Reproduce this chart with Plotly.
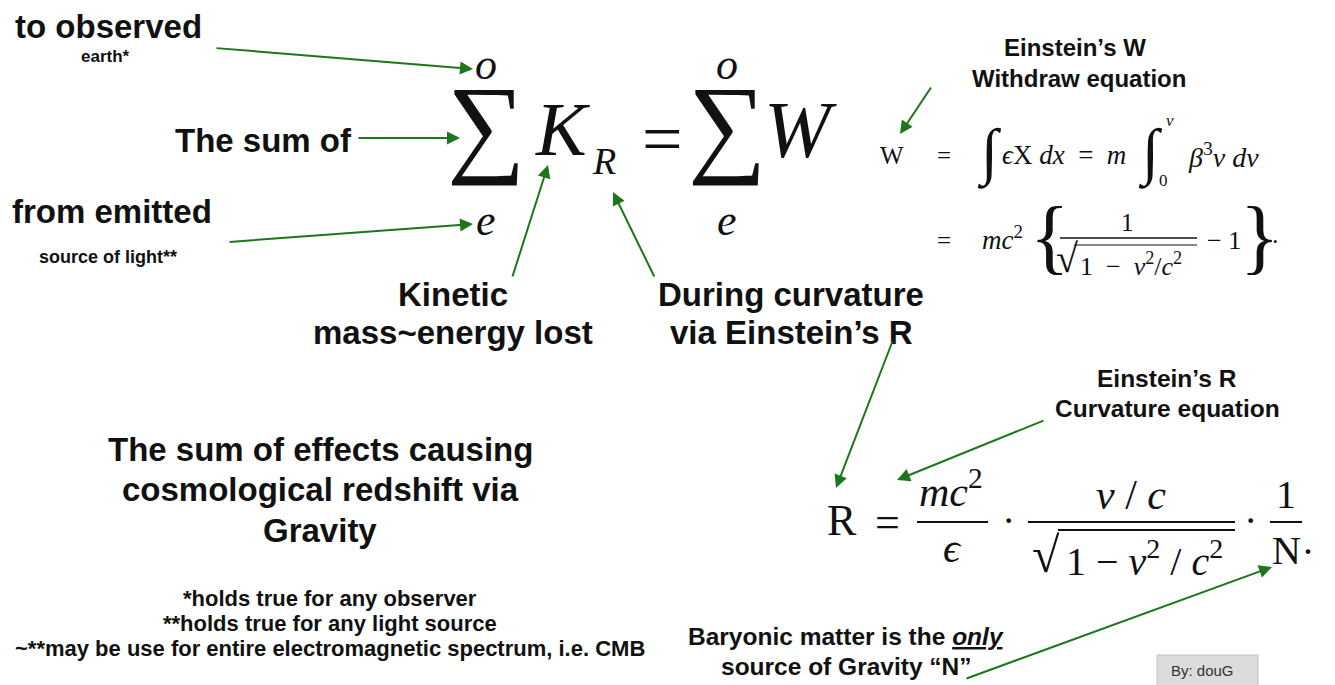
import plotly.graph_objects as go

# ---- text content of the diagram ----
left_labels = ["to observed", "The sum of", "from emitted"]
left_small = ["earth*", "source of light**"]
k_label = ["Kinetic", "mass~energy lost"]
r_label = ["During curvature", "via Einstein’s R"]
w_title = ["Einstein’s W", "Withdraw equation"]
r_title = ["Einstein’s R", "Curvature equation"]
summary = ["The sum of effects causing", "cosmological redshift via", "Gravity"]
footnotes = ["*holds true for any observer",
             "**holds true for any light source",
             "~**may be use for entire electromagnetic spectrum, i.e. CMB"]
baryon = ["Baryonic matter is the <i><u>only</u></i>", "source of Gravity “N”"]
credit = "By: douG"

SANS = "Liberation Sans, Arial, sans-serif"
SERIF = "Liberation Serif, Times New Roman, serif"
INK = "#111111"
GREEN = "#1c771c"
SP = "\u00a0"

fig = go.Figure()
ann = []
shapes = []


def txt(x, y, s, size, family=SANS, bold=False, italic=False, color=INK, xanchor="center"):
    if bold:
        s = "<b>" + s + "</b>"
    if italic:
        s = "<i>" + s + "</i>"
    ann.append(dict(x=x, y=y, xref="x", yref="y", text=s, showarrow=False,
                    xanchor=xanchor, yanchor="middle",
                    font=dict(family=family, size=size, color=color)))


def arrow(x0, y0, x1, y1):
    ann.append(dict(x=x1, y=y1, ax=x0, ay=y0, xref="x", yref="y", axref="x", ayref="y",
                    text="", showarrow=True, arrowhead=2, arrowsize=1.3, arrowwidth=2,
                    arrowcolor=GREEN, standoff=0))


def bar(x0, x1, y, w=2):
    shapes.append(dict(type="line", xref="x", yref="y", x0=x0, x1=x1, y0=y, y1=y,
                       line=dict(color=INK, width=w)))


# ---- left labels ----
txt(108, 26, left_labels[0], 33, bold=True)
txt(105, 56, left_small[0], 17, bold=True)
txt(263, 140, left_labels[1], 33, bold=True)
txt(112, 211, left_labels[2], 33, bold=True)
txt(108, 257, left_small[1], 18, bold=True)

# ---- main equation ----
txt(486, 125, "∑", 110, family=SERIF)
txt(727, 125, "∑", 110, family=SERIF)
txt(486, 64, "o", 44, family=SERIF, italic=True)
txt(486, 220, "e", 44, family=SERIF, italic=True)
txt(727, 64, "o", 44, family=SERIF, italic=True)
txt(727, 220, "e", 44, family=SERIF, italic=True)
txt(562, 129, "K", 76, family=SERIF, italic=True)
txt(604, 161, "R", 38, family=SERIF, italic=True)
txt(662, 139, "=", 72, family=SERIF)
txt(800, 130, "W", 80, family=SERIF, italic=True)

# ---- labels under main equation ----
txt(453, 294, k_label[0], 33, bold=True)
txt(453, 332, k_label[1], 33, bold=True)
txt(791, 294, r_label[0], 33, bold=True)
txt(791, 332, r_label[1], 33, bold=True)

# ---- W equation ----
txt(1075, 47, w_title[0], 24, bold=True)
txt(1079, 78, w_title[1], 24, bold=True)
txt(892, 155, "W", 25, family=SERIF)
txt(944, 155, "=", 25, family=SERIF)
txt(989, 153, "∫", 62, family=SERIF, italic=True)
txt(1000, 155, "<i>ϵ</i>X" + SP + "<i>dx</i>" + SP * 2 + "=" + SP * 2 + "<i>m</i>", 27,
    family=SERIF, xanchor="left")
txt(1150, 153, "∫", 62, family=SERIF, italic=True)
txt(1170, 120, "v", 17, family=SERIF, italic=True)
txt(1163, 180, "0", 17, family=SERIF)
txt(1186, 155, "<i>β</i><sup>3</sup><i>v</i>" + SP + "<i>dv</i>", 28, family=SERIF, xanchor="left")
txt(944, 240, "=", 25, family=SERIF)
txt(980, 238, "<i>mc</i><sup>2</sup>", 27, family=SERIF, xanchor="left")
txt(1049, 236, "{", 82, family=SERIF)
txt(1127, 222, "1", 25, family=SERIF)
bar(1060, 1197, 238, 1.5)
txt(1067, 258, "√", 40, family=SERIF)
txt(1078, 264, "1" + SP * 2 + "−" + SP * 2 + "<i>v</i><sup>2</sup>/<i>c</i><sup>2</sup>", 26,
    family=SERIF, xanchor="left")
bar(1074, 1197, 245, 1.2)
txt(1205, 240, "−" + SP + "1", 26, family=SERIF, xanchor="left")
txt(1259, 236, "}", 82, family=SERIF)
txt(1275, 234, ".", 26, family=SERIF)

# ---- R equation ----
txt(1167, 378, r_title[0], 24.5, bold=True)
txt(1167, 408, r_title[1], 24.5, bold=True)
txt(842, 520, "R", 44, family=SERIF)
txt(887, 522, "=", 44, family=SERIF)
txt(951, 488, "<i>mc</i><sup>2</sup>", 42, family=SERIF)
bar(917, 988, 522)
txt(952, 548, "<i>ϵ</i>", 42, family=SERIF)
txt(1008, 520, "·", 40, family=SERIF)
txt(1131, 495, "<i>v</i>" + SP + "/" + SP + "<i>c</i>", 42, family=SERIF)
bar(1028, 1235, 522)
txt(1046, 555, "√", 50, family=SERIF)
txt(1064, 558, "1" + SP + "−" + SP + "<i>v</i><sup>2</sup>" + SP + "/" + SP + "<i>c</i><sup>2</sup>", 40,
    family=SERIF, xanchor="left")
bar(1058, 1235, 530, 1.8)
txt(1250, 520, "·", 40, family=SERIF)
txt(1286, 494, "1", 40, family=SERIF)
bar(1270, 1302, 522)
txt(1286, 550, "N", 40, family=SERIF)
txt(1308, 540, ".", 40, family=SERIF)

# ---- summary & footnotes ----
for i, line in enumerate(summary):
    txt(320, 449 + i * 40.5, line, 33, bold=True)
for i, line in enumerate(footnotes):
    txt(330, 598 + i * 25, line, 22, bold=True)

txt(846, 636, baryon[0], 24.5, bold=True)
txt(846, 666, baryon[1], 24.5, bold=True)

# credit box
shapes.append(dict(type="rect", xref="x", yref="y", x0=1157, x1=1258, y0=655, y1=690,
                   fillcolor="#dcdcdc", line=dict(color="#c4c4c4", width=1)))
txt(1202, 670, credit, 15, color="#333333")

# ---- arrows ----
arrow(215, 48, 473, 69)
arrow(357, 138, 460, 138)
arrow(228, 242, 473, 224)
arrow(512, 278, 548, 165)
arrow(655, 278, 613, 192)
arrow(932, 86, 900, 134)
arrow(893, 340, 836, 488)
arrow(1045, 420, 897, 480)
arrow(965, 679, 1272, 567)

# page body has an 8px margin, so the figure is 8px smaller and the ranges
# start at 8 so data units equal screen pixels
fig.update_layout(
    width=1327, height=677,
    margin=dict(l=0, r=0, t=0, b=0),
    paper_bgcolor="white", plot_bgcolor="white",
    xaxis=dict(range=[8, 1335], visible=False, fixedrange=True),
    yaxis=dict(range=[685, 8], visible=False, fixedrange=True),
    annotations=ann, shapes=shapes,
    showlegend=False,
)

fig.write_html("out.html")
